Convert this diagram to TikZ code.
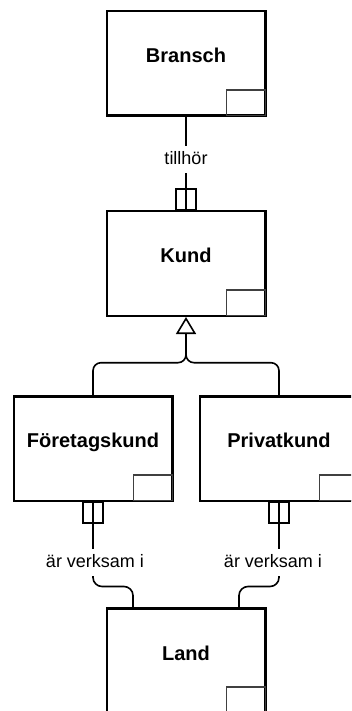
\documentclass[tikz,border=0pt]{standalone}
\usepackage{fontspec}
\setmainfont{Liberation Sans}
\usetikzlibrary{arrows.meta}
\begin{document}
\begin{tikzpicture}[x=1pt,y=-1pt,
  entity/.style={draw, line width=2.5pt, minimum width=158.5pt, minimum height=104.5pt, inner sep=0pt},
  title/.style={font=\bfseries\fontsize{20}{24}\selectfont, anchor=base, inner sep=0pt},
  rel/.style={line width=1.6pt},
  rlabel/.style={font=\fontsize{18}{22}\selectfont, anchor=base, fill=white, text height=15pt, text depth=5pt, inner ysep=3.5pt, inner xsep=2pt},
  corner/.style={line width=1.1pt, draw=black!75},
  card/.style={line width=1.4pt}]
\useasboundingbox (0,0) rectangle (351,711);
\clip (0,0) rectangle (351,711);

% entities
\node[entity] (bransch) at (186,63.5) {};
\node[entity] (kund) at (186,263.5) {};
\node[entity] (foretag) at (93,448.5) {};
\node[entity] (privat) at (279,448.5) {};
\node[entity] (land) at (186,660.5) {};

\node[title] (tbransch) at ([yshift=1pt]bransch.center) {Bransch};
\node[title] (tkund) at ([yshift=1.5pt]kund.center) {Kund};
\node[title] (tforetag) at ([yshift=1.5pt]foretag.center) {Företagskund};
\node[title] (tprivat) at ([yshift=1.5pt]privat.center) {Privatkund};
\node[title] (tland) at ([yshift=0pt]land.center) {Land};

\foreach \n in {bransch,kund,foretag,privat,land}
  \draw[corner] ([xshift=-40pt,yshift=27pt]\n.south east) rectangle ([xshift=-1.25pt,yshift=1.25pt]\n.south east);

% Bransch - Kund
\draw[rel] (bransch.south) -- (kund.north);
\node[rlabel] (ltill) at (186,164.3) {tillhör};
\draw[card] ([xshift=-10pt]kund.north) rectangle ([xshift=10pt,yshift=21pt]kund.north);

% generalization
\coordinate (stem) at ([yshift=-30pt]kund.south);
\coordinate (junc) at (186,362.7);
\draw[rel, {Triangle[open, length=17pt, width=20pt]}-] (kund.south) -- (stem);
\draw[rel, rounded corners=8pt] (stem) -- (junc) -| (foretag.north);
\draw[rel, rounded corners=8pt] (stem) -- (junc) -| (privat.north);

% to Land
\coordinate (lj) at (186,586.5);
\draw[rel, rounded corners=9pt] (foretag.south) |- ([xshift=-53pt]lj) -- ([xshift=-53pt]land.north);
\draw[rel, rounded corners=9pt] (privat.south) |- ([xshift=53pt]lj) -- ([xshift=53pt]land.north);
\node[rlabel] (lfor) at (95,567.3) {är verksam i};
\node[rlabel] (lpriv) at (273,567.3) {är verksam i};
\draw[card] ([xshift=-10pt]foretag.south) rectangle ([xshift=10pt,yshift=-21pt]foretag.south);
\draw[card] ([xshift=-10pt]privat.south) rectangle ([xshift=10pt,yshift=-21pt]privat.south);
\end{tikzpicture}
\end{document}
